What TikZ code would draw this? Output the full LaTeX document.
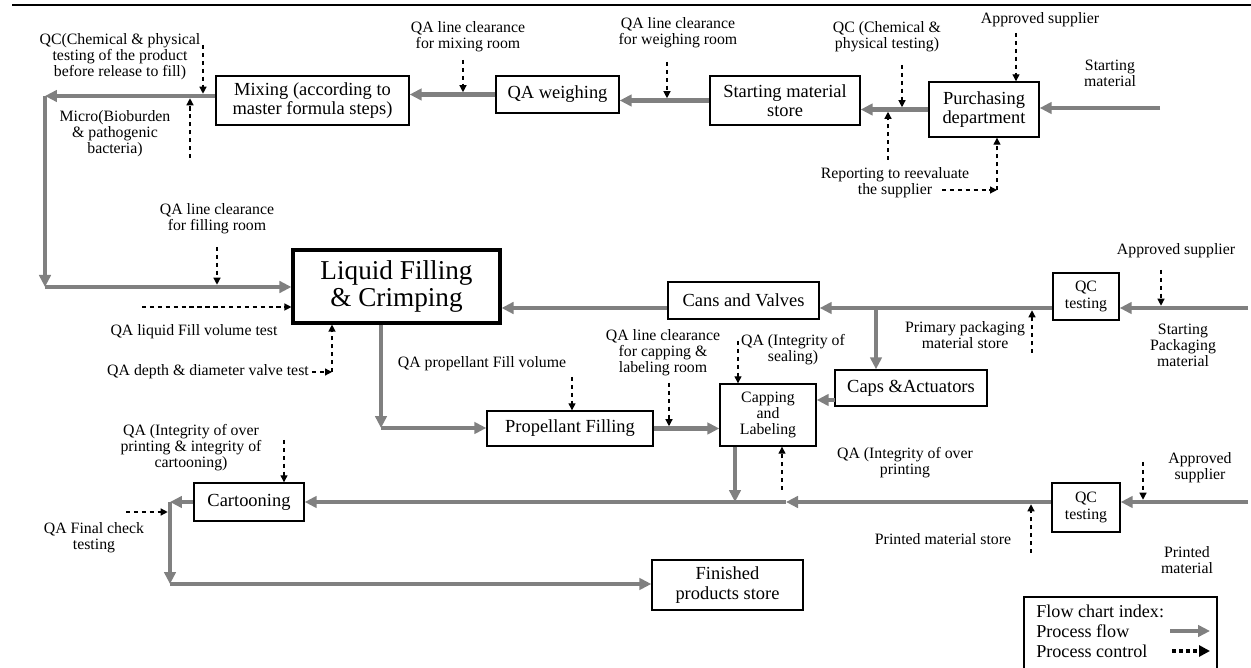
\documentclass[tikz,border=0pt]{standalone}
\usepackage{fontspec}
\setmainfont{Liberation Serif}
\usepackage{xcolor}
\usepackage{tikz}
\usetikzlibrary{arrows.meta}
\definecolor{flowgray}{RGB}{128,128,128}
\tikzset{
  procbox/.style={rectangle, draw=black, line width=0.8pt, fill=white, align=center, inner sep=1pt, font=\fontsize{10.5}{11}\selectfont},
  smallbox/.style={procbox, font=\fontsize{9}{9.2}\selectfont},
  bigbox/.style={procbox, line width=1.8pt, font=\fontsize{15.5}{15.4}\selectfont},
  note/.style={align=center, inner sep=0pt, font=\fontsize{9}{9.1}\selectfont},
  keytext/.style={anchor=west, inner sep=0pt, font=\fontsize{10.3}{11}\selectfont},
  flow/.style={draw=flowgray, line width=2.3pt, -{Triangle[length=2.4mm,width=2.3mm]}},
  ctrl/.style={draw=black, line width=0.7pt, dash pattern=on 2.5pt off 2pt, -{Triangle[length=1.4mm,width=1.4mm]}},
  ctrlon/.style={ctrl, shorten >=1.3pt}
}

\begin{document}
\begin{tikzpicture}[x=0.02cm,y=-0.02cm]
  \useasboundingbox (0,0) rectangle (1251,668);
  \draw[line width=0.6pt] (12,5) -- (1251,5);

  % process boxes
  \node[procbox, minimum width=3.86cm, minimum height=0.98cm] (mix) at (312.5,100.5) {Mixing (according to\\master formula steps)};
  \node[procbox, minimum width=2.46cm, minimum height=0.74cm] (qaw) at (557.5,94.5) {QA weighing};
  \node[procbox, minimum width=3.0cm, minimum height=0.98cm] (sms) at (785,100.5) {Starting material\\store};
  \node[procbox, minimum width=2.2cm, minimum height=1.1cm] (pur) at (984,109.5) {Purchasing\\department};
  \node[bigbox, minimum width=4.14cm, minimum height=1.46cm] (lfc) at (396.5,286.5) {Liquid Filling\\\& Crimping};
  \node[procbox, minimum width=3.02cm, minimum height=0.74cm] (cav) at (743.5,300.5) {Cans and Valves};
  \node[smallbox, minimum width=1.32cm, minimum height=0.94cm] (qc1) at (1086,296.5) {QC\\testing};
  \node[procbox, minimum width=3.04cm, minimum height=0.72cm] (cap) at (911,388) {Caps \&Actuators};
  \node[smallbox, minimum width=1.92cm, minimum height=1.24cm] (cpl) at (768,415) {Capping\\and\\Labeling};
  \node[procbox, minimum width=3.32cm, minimum height=0.70cm] (prf) at (570,428.5) {Propellant Filling};
  \node[procbox, minimum width=2.2cm, minimum height=0.76cm] (crt) at (249,502) {Cartooning};
  \node[smallbox, minimum width=1.36cm, minimum height=0.98cm] (qc2) at (1086,507.5) {QC\\testing};
  \node[procbox, minimum width=3.02cm, minimum height=1.0cm] (fps) at (727.5,585) {Finished\\products store};

  % control labels
  \node[note] (qcprod) at (120,57) {QC(Chemical \& physical\\testing of the product\\before release to fill)};
  \node[note] (micro) at (115,134) {Micro(Bioburden\\\& pathogenic\\bacteria)};
  \node[note] (mixroom) at (468,37) {QA line clearance\\for mixing room};
  \node[note] (weighroom) at (678,33) {QA line clearance\\for weighing room};
  \node[note] (qcchem) at (887,37) {QC (Chemical \&\\physical testing)};
  \node[note] (appsup1) at (1040,20) {Approved supplier};
  \node[note] (startmat) at (1110,73) {Starting\\material};
  \node[note] (reporting) at (895,183) {Reporting to reevaluate\\the supplier};
  \node[note] (fillroom) at (217,219) {QA line clearance\\for filling room};
  \node[note] (liqfill) at (194,332) {QA liquid Fill volume test};
  \node[note] (depthvalve) at (208,372) {QA depth \& diameter valve test};
  \node[note] (propfill) at (482,364) {QA propellant Fill volume};
  \node[note] (capclear) at (663,353) {QA line clearance\\for capping \&\\labeling room};
  \node[note] (sealing) at (793,350) {QA (Integrity of\\sealing)};
  \node[note] (primpack) at (965,335) {Primary packaging\\material store};
  \node[note] (appsup2) at (1176,251) {Approved supplier};
  \node[note] (startpack) at (1183,345) {Starting\\Packaging\\material};
  \node[note] (overcart) at (191,448) {QA (Integrity of over\\printing \& integrity of\\cartooning)};
  \node[note] (finalcheck) at (94,538) {QA Final check\\testing};
  \node[note] (overprint) at (905,463) {QA (Integrity of over\\printing};
  \node[note] (appsup3) at (1200,468) {Approved\\supplier};
  \node[note] (printstore) at (943,539) {Printed material store};
  \node[note] (printmat) at (1187,560) {Printed\\material};

  % bends and free ends of the flow
  \coordinate (tl) at (45,96);
  \coordinate (bl) at (45,287);
  \coordinate (smin) at (1160,108);
  \coordinate (spin) at (1248,308);
  \coordinate (br) at (876,308);
  \coordinate (capin) at (835,400);
  \coordinate (drop) at (381,428);
  \coordinate (ppin) at (1248,502);
  \coordinate (mid) at (786,502);
  \coordinate (cdrop) at (735,502);
  \coordinate (cl) at (170,502);
  \coordinate (cb) at (170,584);

  % process flow
  \draw[flow] (smin) -- (smin -| pur.east);
  \draw[flow] (pur.west) -- (pur.west -| sms.east);
  \draw[flow] (sms.west) -- (sms.west -| qaw.east);
  \draw[flow] (qaw.west) -- (qaw.west -| mix.east);
  \draw[flow] (mix.west |- tl) -- (tl);
  \draw[flow] (tl) -- (bl);
  \draw[flow] (bl) -- (bl -| lfc.west);
  \draw[flow] (spin) -- (spin -| qc1.east);
  \draw[flow] (qc1.west |- spin) -- (spin -| cav.east);
  \draw[flow] (cav.west |- spin) -- (spin -| lfc.east);
  \draw[flow] (br) -- (br |- cap.north);
  \draw[flow] (capin) -- (capin -| cpl.east);
  \draw[flow] (lfc.south -| drop) -- (drop);
  \draw[flow] (drop) -- (drop -| prf.west);
  \draw[flow] (prf.east) -- (prf.east -| cpl.west);
  \draw[flow] (cpl.south -| cdrop) -- (cdrop);
  \draw[flow] (ppin) -- (ppin -| qc2.east);
  \draw[flow] (qc2.west |- ppin) -- (mid);
  \draw[flow] (mid) -- (mid -| crt.east);
  \draw[flow] (crt.west) -- (cl);
  \draw[flow] (cl) -- (cb);
  \draw[flow] (cb) -- (cb -| fps.west);

  % process control
  \coordinate (k1) at (203,45);
  \coordinate (k2) at (190,158);
  \coordinate (k3) at (463,60);
  \coordinate (k4) at (667,62);
  \coordinate (k5) at (902,65);
  \coordinate (k6) at (1016,33);
  \coordinate (k7) at (888,160);
  \coordinate (k8) at (942,190);
  \coordinate (k8b) at (997,190);
  \coordinate (k9) at (217,247);
  \coordinate (k10) at (142,307);
  \coordinate (k11) at (312,372);
  \coordinate (k11b) at (332,372);
  \coordinate (k12) at (1161,270);
  \coordinate (k13) at (1032,353);
  \coordinate (k14) at (572,377);
  \coordinate (k15) at (669,383);
  \coordinate (k16) at (738,341);
  \coordinate (k17) at (284,440);
  \coordinate (k18) at (126,512);
  \coordinate (k19) at (782,490);
  \coordinate (k20) at (1143,462);
  \coordinate (k21) at (1031,553);

  \draw[ctrlon] (k1) -- (k1 |- tl);
  \draw[ctrlon] (k2) -- (k2 |- tl);
  \draw[ctrlon] (k3) -- (k3 |- qaw.west);
  \draw[ctrlon] (k4) -- (k4 |- sms.west);
  \draw[ctrlon] (k5) -- (k5 |- pur.west);
  \draw[ctrl] (k6) -- (k6 |- pur.north);
  \draw[ctrlon] (k7) -- (k7 |- pur.west);
  \draw[ctrl] (k8) -- (k8b);
  \draw[ctrl] (k8b) -- (k8b |- pur.south);
  \draw[ctrlon] (k9) -- (k9 |- bl);
  \draw[ctrl] (k10) -- (k10 -| lfc.west);
  \draw[ctrl] (k11) -- (k11b);
  \draw[ctrl] (k11b) -- (k11b |- lfc.south);
  \draw[ctrlon] (k12) -- (k12 |- spin);
  \draw[ctrlon] (k13) -- (k13 |- spin);
  \draw[ctrl] (k14) -- (k14 |- prf.north);
  \draw[ctrlon] (k15) -- (k15 |- prf.east);
  \draw[ctrl] (k16) -- (k16 |- cpl.north);
  \draw[ctrl] (k17) -- (k17 |- crt.north);
  \draw[ctrlon] (k18) -- (k18 -| cl);
  \draw[ctrl] (k19) -- (k19 |- cpl.south);
  \draw[ctrlon] (k20) -- (k20 |- ppin);
  \draw[ctrlon] (k21) -- (k21 |- ppin);

  % index
  \draw[line width=0.6pt] (1024,597) rectangle (1217,672);
  \node[keytext] (idx) at (1036,611) {Flow chart index:};
  \node[keytext] (pflow) at (1036,631) {Process flow};
  \node[keytext] (pctrl) at (1036,651) {Process control};
  \coordinate (f1) at (1170,631);
  \coordinate (f2) at (1210,631);
  \coordinate (g1) at (1172,651);
  \coordinate (g2) at (1210,651);
  \draw[flow] (f1) -- (f2);
  \draw[ctrl, line width=2.2pt, dash pattern=on 2.4pt off 1.6pt, -{Triangle[length=2.2mm,width=2.2mm]}] (g1) -- (g2);
\end{tikzpicture}
\end{document}
